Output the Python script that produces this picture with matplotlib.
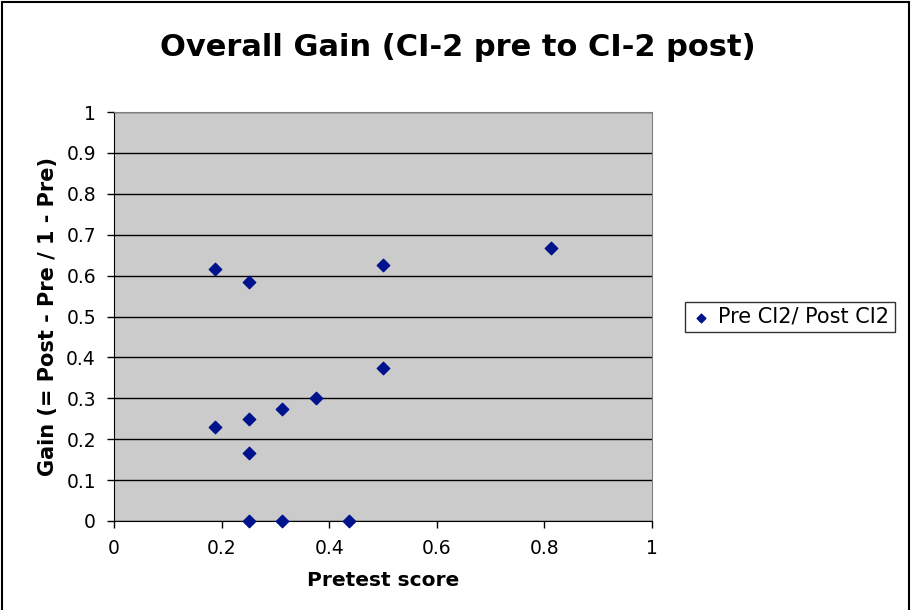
import matplotlib
matplotlib.use('Agg')
import matplotlib.pyplot as plt
from matplotlib.patches import Rectangle

pretest = [0.1875, 0.25, 0.5, 0.8125, 0.5, 0.375, 0.3125, 0.25, 0.1875, 0.25, 0.25, 0.3125, 0.4375]
gain = [0.6154, 0.5833, 0.625, 0.6667, 0.375, 0.3, 0.2727, 0.25, 0.2308, 0.1667, 0.0, 0.0, 0.0]
x_ticks = [0, 0.2, 0.4, 0.6, 0.8, 1]
y_ticks = [0, 0.1, 0.2, 0.3, 0.4, 0.5, 0.6, 0.7, 0.8, 0.9, 1]

plt.rcParams['font.family'] = ['DejaVu Sans']

fig = plt.figure(figsize=(9.13, 6.10), dpi=100)
ax = fig.add_axes([114/913, 1-521/610, 538/913, 409/610])
ax.set_facecolor('#cbcbcb')

ax.scatter(pretest, gain, marker='D', s=40, color='#00138c', zorder=3, clip_on=False,
           label='Pre CI2/ Post CI2')

ax.set_xlim(0, 1)
ax.set_ylim(0, 1)
ax.set_xticks(x_ticks)
ax.set_yticks(y_ticks)
ax.set_xticklabels([f'{t:g}' for t in x_ticks], fontsize=13.5)
ax.set_yticklabels([f'{t:g}' for t in y_ticks], fontsize=13.5)
ax.yaxis.grid(True, color='black', linewidth=1)
ax.set_axisbelow(True)
ax.tick_params(direction='out', length=5, width=1, color='black')
ax.tick_params(axis='y', pad=8)
ax.tick_params(axis='x', pad=8)

for side in ['top', 'right']:
    ax.spines[side].set_color('#808080')
for side in ['left', 'bottom']:
    ax.spines[side].set_color('black')

ax.set_xlabel('Pretest score', fontsize=14.5, fontweight='bold', labelpad=9)
ax.set_ylabel('Gain (= Post - Pre / 1 - Pre)', fontsize=15, fontweight='bold', labelpad=6)

fig.text(458/913, 1-47/610, 'Overall Gain (CI-2 pre to CI-2 post)', ha='center', va='center',
         fontsize=22, fontweight='bold')

leg = ax.legend(loc='center left', bbox_to_anchor=(685/913, 1-317/610), bbox_transform=fig.transFigure,
                fontsize=15, frameon=True, fancybox=False, borderpad=0.25, handletextpad=0.35,
                handlelength=1.0, markerscale=0.7, borderaxespad=0)
leg.get_frame().set_edgecolor('black')
leg.get_frame().set_linewidth(1)

fig.patches.append(Rectangle((2/913, -0.05), 907/913, 1.05 - 2/610, transform=fig.transFigure,
                             fill=False, edgecolor='black', linewidth=1.5))

fig.savefig('out.png', dpi=100)
